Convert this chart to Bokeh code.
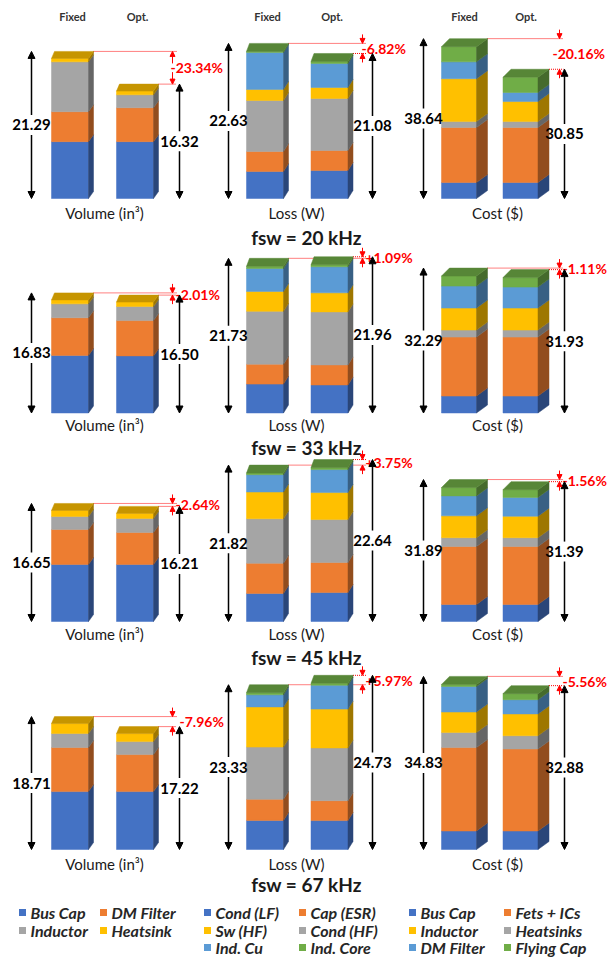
import numpy as np
from bokeh.plotting import figure
from bokeh.models import Range1d, Arrow, NormalHead, ColumnDataSource
from bokeh.embed import file_html
from bokeh.resources import INLINE
from bokeh.core.properties import value

FONT = "Lato"

# ---------------- data ----------------
freq_labels = ["fsw = 20 kHz", "fsw = 33 kHz", "fsw = 45 kHz", "fsw = 67 kHz"]
metric_labels = ["Volume (in³)", "Loss (W)", "Cost ($)"]
bar_names = ["Fixed", "Opt."]

# stacking order, bottom to top
volume_parts = ["Bus Cap", "DM Filter", "Inductor", "Heatsink"]
loss_parts = ["Cond (LF)", "Cap (ESR)", "Cond (HF)", "Sw (HF)", "Ind. Cu", "Ind. Core"]
cost_parts = ["Bus Cap", "Fets + ICs", "Heatsinks", "Inductor", "DM Filter", "Flying Cap"]

# one row per switching frequency (20, 33, 45, 67 kHz)
volume_fixed = [[8.64, 4.55, 7.58, 0.52],
                [8.57, 5.60, 2.07, 0.59],
                [8.55, 5.25, 1.95, 0.90],
                [8.60, 6.55, 2.08, 1.48]]
volume_opt = [[8.64, 5.15, 1.97, 0.56],
              [8.50, 5.25, 2.10, 0.65],
              [8.55, 4.80, 2.10, 0.76],
              [8.60, 5.50, 1.93, 1.19]]
loss_fixed = [[4.15, 3.08, 7.85, 1.70, 5.70, 0.15],
              [4.28, 2.95, 7.83, 2.95, 3.40, 0.32],
              [4.13, 4.43, 6.55, 3.93, 2.55, 0.23],
              [4.33, 3.14, 7.77, 5.98, 1.80, 0.31]]
loss_opt = [[4.30, 3.08, 8.00, 1.70, 3.70, 0.30],
            [4.15, 2.97, 7.86, 2.82, 3.86, 0.30],
            [4.26, 4.41, 6.32, 3.97, 3.38, 0.30],
            [4.30, 2.96, 7.85, 5.78, 3.55, 0.29]]
cost_fixed = [[4.07, 14.00, 1.50, 10.90, 4.30, 3.87],
              [4.00, 13.90, 1.65, 5.19, 5.19, 2.36],
              [4.05, 13.80, 2.10, 5.20, 4.76, 1.98],
              [3.90, 17.60, 3.20, 4.30, 5.40, 0.43]]
cost_opt = [[4.07, 14.00, 1.50, 5.10, 2.30, 3.88],
            [4.00, 13.90, 1.65, 5.19, 4.95, 2.24],
            [4.05, 13.80, 2.10, 5.10, 4.50, 1.84],
            [3.90, 17.30, 2.80, 4.60, 3.00, 1.28]]

volume_total = [[21.29, 16.32], [16.83, 16.50], [16.65, 16.21], [18.71, 17.22]]
loss_total = [[22.63, 21.08], [21.73, 21.96], [21.82, 22.64], [23.33, 24.73]]
cost_total = [[38.64, 30.85], [32.29, 31.93], [31.89, 31.39], [34.83, 32.88]]

change_labels = [["-23.34%", "-6.82%", "-20.16%"],
                 ["-2.01%", "+1.09%", "-1.11%"],
                 ["-2.64%", "+3.75%", "-1.56%"],
                 ["-7.96%", "+5.97%", "-5.56%"]]

legend_volume = [["Bus Cap", "DM Filter"], ["Inductor", "Heatsink"]]
legend_loss = [["Cond (LF)", "Cap (ESR)"], ["Sw (HF)", "Cond (HF)"], ["Ind. Cu", "Ind. Core"]]
legend_cost = [["Bus Cap", "Fets + ICs"], ["Inductor", "Heatsinks"], ["DM Filter", "Flying Cap"]]

PALETTE = ["#4472C4", "#ED7D31", "#A5A5A5", "#FFC000", "#5B9BD5", "#70AD47"]

parts = [volume_parts, loss_parts, cost_parts]
stacks = [[volume_fixed, volume_opt], [loss_fixed, loss_opt], [cost_fixed, cost_opt]]
totals = [volume_total, loss_total, cost_total]
legends = [legend_volume, legend_loss, legend_cost]

# ---------------- layout (pixels) ----------------
W, H = 613, 957
row_base = [198, 412.5, 621, 849]
px_per_unit = [[6.58, 6.50, 3.93],
               [6.72, 6.75, 4.24],
               [6.67, 6.80, 4.20],
               [6.73, 6.72, 4.74]]
bar_cx = [[69.5, 134.5], [264.5, 329.0], [458.5, 520.0]]
bar_w = [37, 37, 35]
depth = [(3, 5, 7), (3, 5, 8), (8, 11, 8)]  # back-left shift, back-right shift, rise
total_ax = [[31, 179], [228, 372], [423, 564]]
diff_ax = [172, 362, 559]
diff_outward = [[True, False, False], [False] * 3, [False] * 3, [False] * 3]
diff_text_dx = [[-2, -1, -7], [3, 3, 3], [3, 3, 3], [7, 3, 3]]
metric_cx = [104, 296, 497]
metric_y = [212, 424, 633, 863]
freq_y = [237, 447, 657, 884]
legend_sq_x = [(22, 103), (207, 302), (412, 507)]
legend_y = [912, 930, 947]
label_gap = 10  # half height of the break in a total arrow


def shade(c, f):
    r, g, b = int(c[1:3], 16), int(c[3:5], 16), int(c[5:7], 16)
    return "#%02x%02x%02x" % (int(r * f), int(g * f), int(b * f))


p = figure(width=W, height=H, x_range=Range1d(0, W), y_range=Range1d(H, 0),
           output_backend="svg", toolbar_location=None, min_border=0,
           x_axis_location=None, y_axis_location=None, outline_line_color=None,
           background_fill_color="white", border_fill_color="white")
p.grid.grid_line_color = None
p.xgrid.visible = False
p.ygrid.visible = False

red = "#FF0000"

for r in range(4):
    for c in range(3):
        key = f"panel_{r}_{c}"
        s = px_per_unit[r][c]
        b = row_base[r]
        p.extra_y_ranges[key] = Range1d(start=(b - H) / s, end=b / s)
        dl, dr, rise = depth[c]
        dy = rise / s
        w = bar_w[c]
        tots = totals[c][r]

        # red guide lines from the two bar tops to the difference marker
        ax = diff_ax[c]
        lines = []
        for k in range(2):
            xr = bar_cx[c][k] + w / 2 + dr
            yl = tots[k] + dy
            lines.append(yl)
            p.segment(x0=[xr], y0=[yl], x1=[ax + 4], y1=[yl], line_color=red,
                      line_width=1, line_dash="1 1", y_range_name=key)

        # stacked 3-D bars
        for k in range(2):
            vals = stacks[c][k][r]
            cx = bar_cx[c][k]
            xl, xr = cx - w / 2, cx + w / 2
            cum = np.concatenate([[0.0], np.cumsum(vals)])
            cols = PALETTE[:len(vals)]
            front = ColumnDataSource(dict(left=[xl] * len(vals), right=[xr] * len(vals),
                                          bottom=list(cum[:-1]), top=list(cum[1:]), color=cols))
            p.quad(left="left", right="right", bottom="bottom", top="top", source=front,
                   fill_color="color", line_color="color", line_width=0.5, y_range_name=key)
            side_xs, side_ys, side_c = [], [], []
            for i in range(len(vals)):
                y0, y1 = cum[i], cum[i + 1]
                side_xs.append([xr, xr + dr, xr + dr, xr])
                side_ys.append([y0, y0 + dy, y1 + dy, y1])
                side_c.append(shade(cols[i], 0.62))
            p.patches(xs=side_xs, ys=side_ys, fill_color=side_c, line_color=side_c,
                      line_width=0.5, y_range_name=key)
            T = cum[-1]
            top_c = shade(cols[-1], 0.78)
            p.patches(xs=[[xl, xr, xr + dr, xl + dl]], ys=[[T, T, T + dy, T + dy]],
                      fill_color=[top_c], line_color=[top_c], line_width=0.5,
                      y_range_name=key)

        # total dimension arrows, broken around their values
        for k in range(2):
            T = tots[k]
            tx = total_ax[c][k]
            mid = (T + dy) / 2
            g = label_gap / s
            for y_from, y_to in [(mid + g, T + dy), (mid - g, 0)]:
                p.add_layout(Arrow(end=NormalHead(size=7, fill_color="black", line_color="black"),
                                   x_start=tx, y_start=y_from, x_end=tx, y_end=y_to,
                                   line_color="black", line_width=1.5, y_range_name=key))
            p.text(x=[tx], y=[mid], text=[f"{T:.2f}"], text_align="center",
                   text_baseline="middle", text_font=value(FONT), text_font_size="15px",
                   text_font_style="bold", text_color="black", y_range_name=key)

        # red difference markers
        hi, lo = max(lines), min(lines)
        if diff_outward[r][c]:
            segs = [(hi - 12 / s, hi), (lo + 12 / s, lo)]
        else:
            segs = [(hi + 9 / s, hi), (lo - 9 / s, lo)]
        for y_from, y_to in segs:
            p.add_layout(Arrow(end=NormalHead(size=5, fill_color=red, line_color=red),
                               x_start=ax, y_start=y_from, x_end=ax, y_end=y_to,
                               line_color=red, line_width=1, y_range_name=key))
        p.text(x=[ax + diff_text_dx[r][c]], y=[(hi + lo) / 2], text=[change_labels[r][c]],
               text_align="left", text_baseline="middle", text_font=value(FONT),
               text_font_size="14px", text_font_style="bold", text_color=red,
               y_range_name=key)

        # metric caption under each panel
        p.text(x=[metric_cx[c]], y=[metric_y[r]], text=[metric_labels[c]],
               text_font=value(FONT), text_font_size="15px", text_color="#1a1a1a",
               text_align="center", text_baseline="middle")

    p.text(x=[306], y=[freq_y[r]], text=[freq_labels[r]], text_font=value(FONT),
           text_font_size="19px", text_font_style="bold", text_color="#1a1a1a",
           text_align="center", text_baseline="middle")

# column headers
for c in range(3):
    p.text(x=[bar_cx[c][k] + depth[c][1] / 2 for k in range(2)], y=[16, 16], text=bar_names,
           text_font=value(FONT), text_font_size="11px", text_font_style="bold",
           text_color="#333333", text_align="center", text_baseline="middle")

# legend
for g in range(3):
    for j, entries in enumerate(legends[g]):
        for m, name in enumerate(entries):
            col = PALETTE[parts[g].index(name)]
            sx = legend_sq_x[g][m]
            p.rect(x=[sx], y=[legend_y[j]], width=7, height=7, fill_color=col, line_color=None)
            p.text(x=[sx + 8], y=[legend_y[j]], text=[name], text_font=value(FONT),
                   text_font_size="16px", text_font_style="bold italic", text_color="#262626",
                   text_align="left", text_baseline="middle")

open("out.html", "w").write(file_html(p, INLINE))
